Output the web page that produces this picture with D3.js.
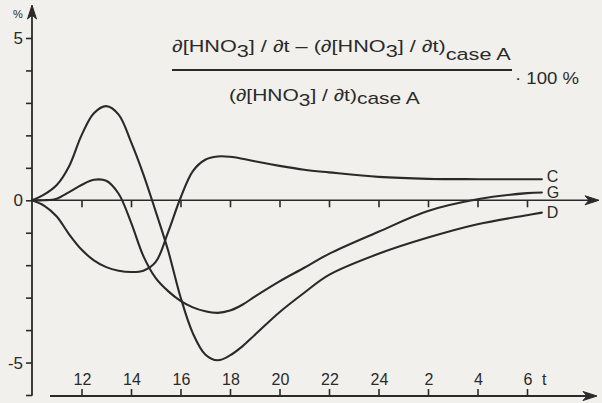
<!DOCTYPE html>
<html><head><meta charset="utf-8">
<script src="https://cdn.jsdelivr.net/npm/d3@7"></script>
<style>
html,body{margin:0;padding:0;background:#f1f0ec;}
svg{display:block;}
text{font-family:"Liberation Sans",Arial,sans-serif;fill:#2a2a2a;}
</style></head>
<body>
<svg id="c" width="602" height="403"></svg>
<script>
// ---- data ----
const hours = [10,10.5,11,11.5,12,12.5,13,13.5,14,14.5,15,15.5,16,16.5,17,17.5,18,18.5,19,20,21,22,24,26,28,30,30.6];
const seriesC = [0,-0.17,-0.5,-1.05,-1.52,-1.85,-2.06,-2.17,-2.21,-2.17,-1.9,-0.98,0.07,0.9,1.25,1.35,1.34,1.28,1.2,1.06,0.94,0.86,0.72,0.66,0.65,0.65,0.65];
const seriesG = [0,0.0,0.05,0.25,0.47,0.63,0.6,0.2,-0.68,-1.72,-2.4,-2.8,-3.1,-3.3,-3.42,-3.47,-3.4,-3.22,-2.97,-2.5,-2.08,-1.65,-0.97,-0.33,0.03,0.22,0.24];
const seriesD = [0,0.18,0.47,1.05,2.0,2.68,2.9,2.64,1.8,0.8,-0.35,-1.55,-2.98,-4.1,-4.75,-4.93,-4.78,-4.5,-4.15,-3.45,-2.85,-2.3,-1.65,-1.15,-0.74,-0.46,-0.38];
const seriesNames = ["C","G","D"];
const xTickValues = [12,14,16,18,20,22,24,26,28,30];
const xTickLabels = ["12","14","16","18","20","22","24","2","4","6"];
const yTickValues = [-6,-5,-4,-3,-2,-1,0,1,2,3,4,5];
const yTickLabels = {"5":"5","0":"0","-5":"-5"};

const ink = "#2a2a2a";
const svg = d3.select("#c");
const x = d3.scaleLinear().domain([10,30]).range([32,527]);
const y = d3.scaleLinear().domain([-6,5]).range([395,38]);

function arrowHead(g, tipX, tipY, dir){
  let p;
  if(dir==="right") p = `M${tipX},${tipY} L${tipX-14},${tipY-4.5} L${tipX-10},${tipY} L${tipX-14},${tipY+4.5} Z`;
  else p = `M${tipX},${tipY} L${tipX-4.5},${tipY+14} L${tipX},${tipY+10} L${tipX+4.5},${tipY+14} Z`;
  g.append("path").attr("d",p).attr("fill",ink).attr("stroke",ink).attr("stroke-width",1).attr("stroke-linejoin","round");
}

// y axis
const yAxis = d3.axisLeft(y).tickValues(yTickValues).tickSize(6).tickFormat(()=> "");
const gy = svg.append("g").attr("transform",`translate(${x(10)},0)`).call(yAxis);
gy.select(".domain").remove();
gy.selectAll(".tick line").attr("stroke",ink).attr("stroke-width",1.6);
svg.append("line").attr("x1",x(10)).attr("x2",x(10)).attr("y1",y(-6)+0.8).attr("y2",14)
  .attr("stroke",ink).attr("stroke-width",1.8);
arrowHead(svg, x(10), 5, "up");
yTickValues.filter(v=>yTickLabels[v]!==undefined).forEach(v=>{
  svg.append("text").attr("x",x(10)-9).attr("y",y(v)).attr("dy","0.36em")
    .attr("text-anchor","end").style("font-size","17px").text(yTickLabels[v]);
});
svg.append("text").attr("x",13).attr("y",18).style("font-size","11px").text("%");

// zero line axis with ticks below
const xAxis0 = d3.axisBottom(x).tickValues(xTickValues).tickSize(7).tickFormat(()=> "");
const g0 = svg.append("g").attr("transform",`translate(0,${y(0)})`).call(xAxis0);
g0.select(".domain").remove();
g0.selectAll(".tick line").attr("stroke",ink).attr("stroke-width",1.6);
svg.append("line").attr("x1",x(10)).attr("x2",590).attr("y1",y(0)).attr("y2",y(0))
  .attr("stroke",ink).attr("stroke-width",1.6);
arrowHead(svg, 599, y(0), "right");

// bottom time axis
const baseY = 396;
const xAxisB = d3.axisTop(x).tickValues(xTickValues).tickSize(7).tickFormat(()=> "");
const gb = svg.append("g").attr("transform",`translate(0,${baseY})`).call(xAxisB);
gb.select(".domain").remove();
gb.selectAll(".tick line").attr("stroke",ink).attr("stroke-width",1.6);
svg.append("line").attr("x1",50).attr("x2",588).attr("y1",baseY).attr("y2",baseY)
  .attr("stroke",ink).attr("stroke-width",1.8);
arrowHead(svg, 597, baseY, "right");
xTickValues.forEach((v,i)=>{
  svg.append("text").attr("x",x(v)+1).attr("y",385).attr("text-anchor","middle")
    .style("font-size","16px").text(xTickLabels[i]);
});
svg.append("text").attr("x",542).attr("y",385).style("font-size","16px").text("t");

// curves
const line = d3.line().x((d,i)=>x(hours[i])).y(d=>y(d)).curve(d3.curveCatmullRom.alpha(0.5));
const allSeries = [seriesC, seriesG, seriesD];
allSeries.forEach(s=>{
  svg.append("path").attr("d",line(s)).attr("fill","none").attr("stroke",ink)
    .attr("stroke-width",2.1).attr("stroke-linejoin","round").attr("stroke-linecap","round");
});
const labelDy = [-3, 0, 0];
allSeries.forEach((s,k)=>{
  svg.append("text").attr("x",x(hours[hours.length-1])+5).attr("y",y(s[s.length-1])+labelDy[k])
    .attr("dy","0.36em").style("font-size","16px").text(seriesNames[k]);
});

// formula: stretch glyphs horizontally to the reference widths
function fit(sel, x0, target){
  const w = sel.node().getComputedTextLength();
  const k = target / w;
  sel.attr("transform", `translate(${x0},0) scale(${k.toFixed(4)},1) translate(${-x0},0)`);
}
const f = svg.append("g").style("font-size","17px");
const num = f.append("text").attr("x",172).attr("y",52);
num.append("tspan").text("∂[HNO");
num.append("tspan").attr("dy",5).text("3");
num.append("tspan").attr("dy",-5).text("] / ∂t – (∂[HNO");
num.append("tspan").attr("dy",5).text("3");
num.append("tspan").attr("dy",-5).text("] / ∂t)");
num.append("tspan").attr("dy",8).text("case A");
fit(num, 172, 339);
f.append("line").attr("x1",172).attr("x2",512).attr("y1",70).attr("y2",70)
  .attr("stroke",ink).attr("stroke-width",1.8);
const hundred = f.append("text").attr("x",515).attr("y",84).text("· 100 %");
fit(hundred, 515, 64);
const den = f.append("text").attr("x",229).attr("y",101);
den.append("tspan").text("(∂[HNO");
den.append("tspan").attr("dy",5).text("3");
den.append("tspan").attr("dy",-5).text("] / ∂t)");
den.append("tspan").attr("dy",3).text("case A");
fit(den, 229, 191);
</script>
</body></html>
